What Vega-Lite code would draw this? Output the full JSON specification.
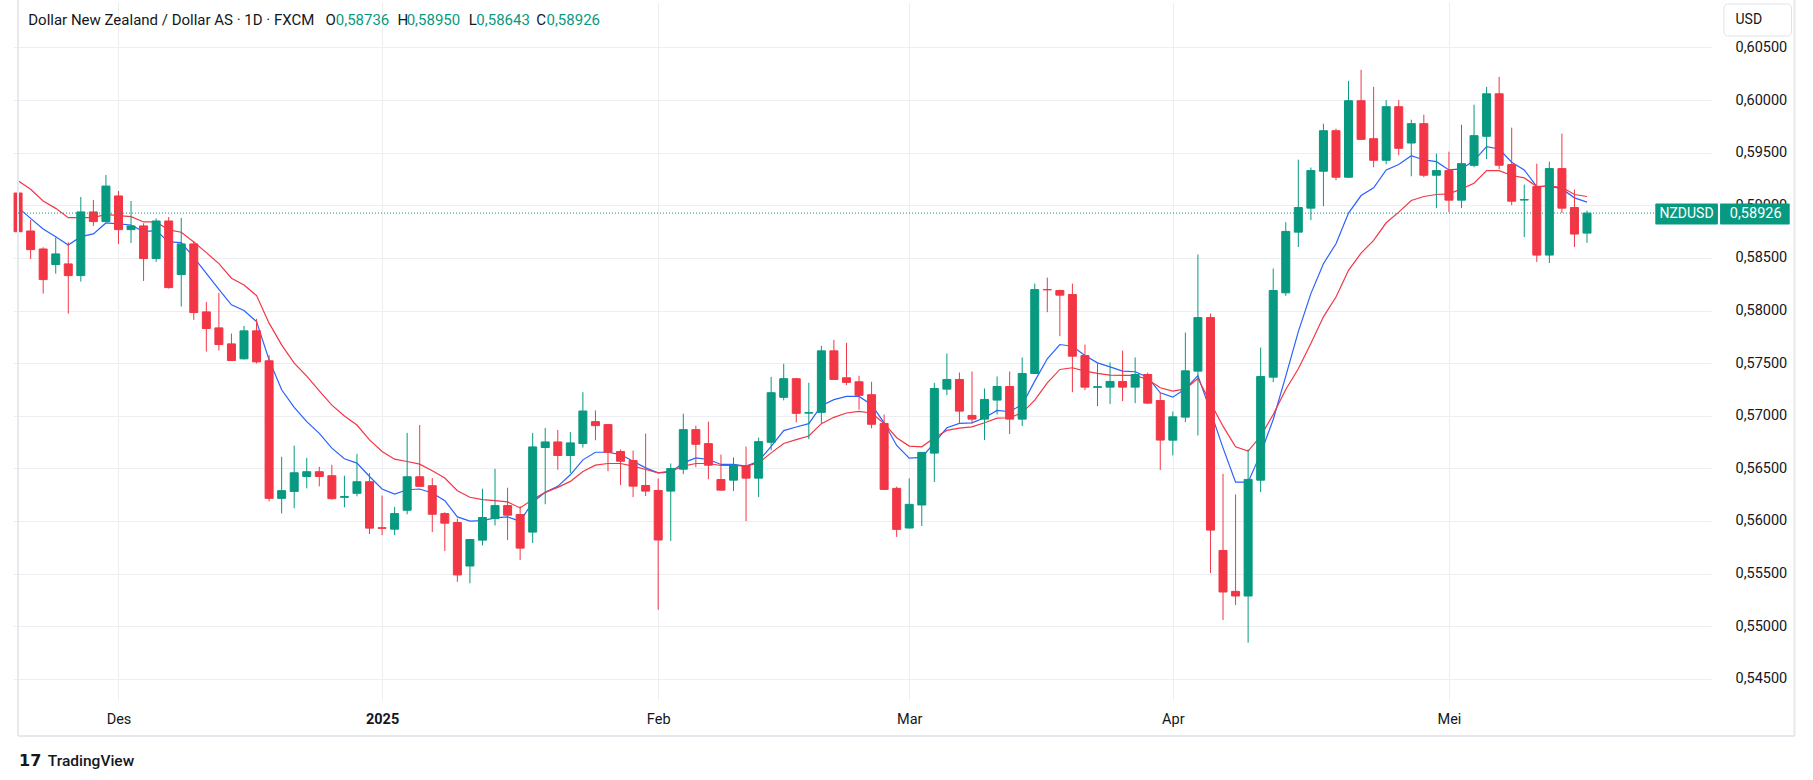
{
  "$schema": "https://vega.github.io/schema/vega-lite/v6.json",
  "width": 1698,
  "height": 698,
  "autosize": {"type": "none"},
  "padding": {"left": 13, "top": 2, "right": 102, "bottom": 80},
  "background": "#ffffff",
  "config": {"view": {"stroke": null}},
  "datasets": {
    "nzdusd": [
      {"i":1,"o":0.59117,"h":0.5916,"l":0.587,"c":0.58749,"b":0.58978,"r":0.59234},
      {"i":2,"o":0.58756,"h":0.58861,"l":0.5849,"c":0.58579,"b":0.58876,"r":0.59152},
      {"i":3,"o":0.58585,"h":0.58601,"l":0.58161,"c":0.58294,"b":0.58775,"r":0.59041},
      {"i":4,"o":0.58437,"h":0.58693,"l":0.58351,"c":0.58538,"b":0.58702,"r":0.58971},
      {"i":5,"o":0.58443,"h":0.58649,"l":0.57971,"c":0.58332,"b":0.58623,"r":0.58883},
      {"i":6,"o":0.58332,"h":0.59079,"l":0.58275,"c":0.58937,"b":0.58702,"r":0.58883},
      {"i":7,"o":0.58937,"h":0.59051,"l":0.58804,"c":0.58845,"b":0.58728,"r":0.58883},
      {"i":8,"o":0.58845,"h":0.59288,"l":0.5884,"c":0.59183,"b":0.58832,"r":0.58914},
      {"i":9,"o":0.59089,"h":0.59136,"l":0.58633,"c":0.58769,"b":0.58823,"r":0.58902},
      {"i":10,"o":0.58769,"h":0.59041,"l":0.58642,"c":0.58804,"b":0.58813,"r":0.58892},
      {"i":11,"o":0.58804,"h":0.58829,"l":0.58281,"c":0.58494,"b":0.5875,"r":0.58842},
      {"i":12,"o":0.58494,"h":0.58876,"l":0.58462,"c":0.58851,"b":0.58759,"r":0.58842},
      {"i":13,"o":0.58851,"h":0.58889,"l":0.58209,"c":0.58218,"b":0.58652,"r":0.58766},
      {"i":14,"o":0.58342,"h":0.5888,"l":0.58038,"c":0.58633,"b":0.58646,"r":0.58744},
      {"i":15,"o":0.58633,"h":0.58661,"l":0.57911,"c":0.57981,"b":0.58506,"r":0.58652},
      {"i":16,"o":0.57987,"h":0.58082,"l":0.5761,"c":0.57829,"b":0.58354,"r":0.5855},
      {"i":17,"o":0.57835,"h":0.58168,"l":0.5762,"c":0.57677,"b":0.58202,"r":0.58446},
      {"i":18,"o":0.57683,"h":0.57781,"l":0.5752,"c":0.57525,"b":0.58054,"r":0.58307},
      {"i":19,"o":0.57541,"h":0.57854,"l":0.57535,"c":0.57807,"b":0.58,"r":0.58243},
      {"i":20,"o":0.57807,"h":0.57921,"l":0.57497,"c":0.57512,"b":0.57895,"r":0.58142},
      {"i":21,"o":0.57522,"h":0.57576,"l":0.56186,"c":0.56215,"b":0.57531,"r":0.5788},
      {"i":22,"o":0.56215,"h":0.5661,"l":0.56072,"c":0.56288,"b":0.57247,"r":0.57674},
      {"i":23,"o":0.56281,"h":0.56715,"l":0.5612,"c":0.56458,"b":0.57079,"r":0.575},
      {"i":24,"o":0.56423,"h":0.566,"l":0.5631,"c":0.56468,"b":0.56944,"r":0.57376},
      {"i":25,"o":0.56468,"h":0.56515,"l":0.56329,"c":0.56423,"b":0.56833,"r":0.57237},
      {"i":26,"o":0.5643,"h":0.56534,"l":0.56203,"c":0.56212,"b":0.56692,"r":0.57101},
      {"i":27,"o":0.56225,"h":0.5643,"l":0.5613,"c":0.56232,"b":0.56591,"r":0.56997},
      {"i":28,"o":0.56263,"h":0.56638,"l":0.56234,"c":0.56373,"b":0.5655,"r":0.56912},
      {"i":29,"o":0.56373,"h":0.56455,"l":0.55875,"c":0.55932,"b":0.56423,"r":0.5677},
      {"i":30,"o":0.55936,"h":0.56241,"l":0.55865,"c":0.5593,"b":0.56304,"r":0.5666},
      {"i":31,"o":0.55922,"h":0.56133,"l":0.55865,"c":0.5607,"b":0.56256,"r":0.56587},
      {"i":32,"o":0.56102,"h":0.56837,"l":0.56064,"c":0.5642,"b":0.56297,"r":0.56565},
      {"i":33,"o":0.5642,"h":0.56912,"l":0.56323,"c":0.56329,"b":0.56304,"r":0.5654},
      {"i":34,"o":0.56335,"h":0.56408,"l":0.55894,"c":0.56064,"b":0.56266,"r":0.56477},
      {"i":35,"o":0.5607,"h":0.56083,"l":0.55714,"c":0.55979,"b":0.56193,"r":0.56408},
      {"i":36,"o":0.55985,"h":0.56023,"l":0.55421,"c":0.55487,"b":0.56039,"r":0.56288},
      {"i":37,"o":0.55572,"h":0.5583,"l":0.55408,"c":0.55824,"b":0.55998,"r":0.56225},
      {"i":38,"o":0.55818,"h":0.56307,"l":0.55768,"c":0.56033,"b":0.56004,"r":0.56203},
      {"i":39,"o":0.56023,"h":0.56496,"l":0.55957,"c":0.56146,"b":0.56029,"r":0.56193},
      {"i":40,"o":0.56146,"h":0.56316,"l":0.55818,"c":0.56055,"b":0.56039,"r":0.56181},
      {"i":41,"o":0.56061,"h":0.5614,"l":0.55629,"c":0.55742,"b":0.55998,"r":0.56124},
      {"i":42,"o":0.55894,"h":0.56837,"l":0.5579,"c":0.56704,"b":0.56178,"r":0.56203},
      {"i":43,"o":0.56698,"h":0.56884,"l":0.56159,"c":0.56751,"b":0.56272,"r":0.56272},
      {"i":44,"o":0.56751,"h":0.56865,"l":0.56487,"c":0.56622,"b":0.56329,"r":0.56319},
      {"i":45,"o":0.56622,"h":0.56846,"l":0.56455,"c":0.56742,"b":0.56439,"r":0.56376},
      {"i":46,"o":0.56736,"h":0.57224,"l":0.56698,"c":0.57045,"b":0.56581,"r":0.56471},
      {"i":47,"o":0.56944,"h":0.57051,"l":0.56767,"c":0.56906,"b":0.56653,"r":0.5653},
      {"i":48,"o":0.56916,"h":0.5692,"l":0.56473,"c":0.56653,"b":0.56653,"r":0.56546},
      {"i":49,"o":0.5666,"h":0.56679,"l":0.56341,"c":0.56568,"b":0.56631,"r":0.56546},
      {"i":50,"o":0.56574,"h":0.56669,"l":0.56227,"c":0.56331,"b":0.56568,"r":0.56521},
      {"i":51,"o":0.56337,"h":0.5683,"l":0.56236,"c":0.56284,"b":0.56505,"r":0.56489},
      {"i":52,"o":0.5629,"h":0.56404,"l":0.55156,"c":0.55819,"b":0.56458,"r":0.56458},
      {"i":53,"o":0.56284,"h":0.56546,"l":0.5581,"c":0.56499,"b":0.56464,"r":0.56473},
      {"i":54,"o":0.56492,"h":0.5702,"l":0.56445,"c":0.56868,"b":0.56552,"r":0.56521},
      {"i":55,"o":0.56868,"h":0.56906,"l":0.56511,"c":0.56729,"b":0.566,"r":0.56546},
      {"i":56,"o":0.56735,"h":0.56944,"l":0.56397,"c":0.5653,"b":0.56584,"r":0.56546},
      {"i":57,"o":0.56394,"h":0.56631,"l":0.5629,"c":0.56293,"b":0.56537,"r":0.56527},
      {"i":58,"o":0.56388,"h":0.56603,"l":0.56284,"c":0.5653,"b":0.56537,"r":0.56527},
      {"i":59,"o":0.56527,"h":0.56707,"l":0.55999,"c":0.56407,"b":0.56521,"r":0.56521},
      {"i":60,"o":0.56407,"h":0.56792,"l":0.56227,"c":0.56754,"b":0.56568,"r":0.56552},
      {"i":61,"o":0.56748,"h":0.5737,"l":0.56672,"c":0.57219,"b":0.5671,"r":0.56647},
      {"i":62,"o":0.57175,"h":0.57494,"l":0.57146,"c":0.57352,"b":0.56859,"r":0.56736},
      {"i":63,"o":0.57352,"h":0.5736,"l":0.56938,"c":0.57023,"b":0.56893,"r":0.56773},
      {"i":64,"o":0.57025,"h":0.57314,"l":0.56777,"c":0.5703,"b":0.56925,"r":0.56808},
      {"i":65,"o":0.57032,"h":0.57664,"l":0.56928,"c":0.57617,"b":0.57096,"r":0.56925},
      {"i":66,"o":0.57617,"h":0.57721,"l":0.5734,"c":0.57345,"b":0.57153,"r":0.56985},
      {"i":67,"o":0.57361,"h":0.57693,"l":0.57292,"c":0.57317,"b":0.57184,"r":0.57026},
      {"i":68,"o":0.57323,"h":0.5738,"l":0.57058,"c":0.57194,"b":0.57184,"r":0.57042},
      {"i":69,"o":0.572,"h":0.57323,"l":0.56881,"c":0.56919,"b":0.57105,"r":0.57026},
      {"i":70,"o":0.56927,"h":0.57012,"l":0.56294,"c":0.563,"b":0.56933,"r":0.56927},
      {"i":71,"o":0.5631,"h":0.56326,"l":0.55848,"c":0.5592,"b":0.56718,"r":0.56791},
      {"i":72,"o":0.55933,"h":0.56405,"l":0.5593,"c":0.56158,"b":0.56598,"r":0.56712},
      {"i":73,"o":0.56152,"h":0.56655,"l":0.55952,"c":0.56652,"b":0.56604,"r":0.56705},
      {"i":74,"o":0.56645,"h":0.57313,"l":0.5637,"c":0.57259,"b":0.56743,"r":0.56791},
      {"i":75,"o":0.57253,"h":0.57592,"l":0.57196,"c":0.57345,"b":0.56886,"r":0.56861},
      {"i":76,"o":0.57345,"h":0.57411,"l":0.56927,"c":0.57044,"b":0.56927,"r":0.56883},
      {"i":77,"o":0.57003,"h":0.57421,"l":0.56927,"c":0.56968,"b":0.56933,"r":0.56895},
      {"i":78,"o":0.56968,"h":0.57259,"l":0.56769,"c":0.57155,"b":0.56981,"r":0.56933},
      {"i":79,"o":0.57149,"h":0.57373,"l":0.57012,"c":0.57278,"b":0.5705,"r":0.56978},
      {"i":80,"o":0.57278,"h":0.57421,"l":0.56826,"c":0.56968,"b":0.57038,"r":0.56981},
      {"i":81,"o":0.56968,"h":0.57554,"l":0.56902,"c":0.57402,"b":0.57107,"r":0.57028},
      {"i":82,"o":0.57402,"h":0.58256,"l":0.574,"c":0.58199,"b":0.57329,"r":0.57149},
      {"i":83,"o":0.582,"h":0.58313,"l":0.57984,"c":0.58196,"b":0.57541,"r":0.57313},
      {"i":84,"o":0.5819,"h":0.582,"l":0.57756,"c":0.58146,"b":0.57677,"r":0.5744},
      {"i":85,"o":0.58152,"h":0.58256,"l":0.57224,"c":0.57566,"b":0.57661,"r":0.57456},
      {"i":86,"o":0.57572,"h":0.57677,"l":0.57244,"c":0.57272,"b":0.57573,"r":0.57424},
      {"i":87,"o":0.5727,"h":0.57497,"l":0.57092,"c":0.57276,"b":0.57503,"r":0.57402},
      {"i":88,"o":0.57272,"h":0.57506,"l":0.57111,"c":0.57326,"b":0.57465,"r":0.57386},
      {"i":89,"o":0.57326,"h":0.5762,"l":0.57139,"c":0.57272,"b":0.57424,"r":0.57383},
      {"i":90,"o":0.57272,"h":0.57554,"l":0.5712,"c":0.57392,"b":0.57418,"r":0.57383},
      {"i":91,"o":0.57392,"h":0.5741,"l":0.57111,"c":0.5712,"b":0.57367,"r":0.57345},
      {"i":92,"o":0.57145,"h":0.57221,"l":0.56484,"c":0.56769,"b":0.57218,"r":0.57266},
      {"i":93,"o":0.56768,"h":0.5704,"l":0.56623,"c":0.5699,"b":0.57177,"r":0.57234},
      {"i":94,"o":0.56987,"h":0.57791,"l":0.56939,"c":0.57427,"b":0.57256,"r":0.57256},
      {"i":95,"o":0.57424,"h":0.58532,"l":0.56813,"c":0.57933,"b":0.57382,"r":0.57354},
      {"i":96,"o":0.57933,"h":0.57971,"l":0.55505,"c":0.55913,"b":0.57044,"r":0.57123},
      {"i":97,"o":0.5572,"h":0.56448,"l":0.55059,"c":0.55325,"b":0.56695,"r":0.56901},
      {"i":98,"o":0.55331,"h":0.56252,"l":0.55201,"c":0.55287,"b":0.56369,"r":0.56705},
      {"i":99,"o":0.55287,"h":0.5668,"l":0.54843,"c":0.56395,"b":0.56369,"r":0.56664},
      {"i":100,"o":0.56388,"h":0.57648,"l":0.56274,"c":0.57373,"b":0.5664,"r":0.56806},
      {"i":101,"o":0.57367,"h":0.58399,"l":0.57319,"c":0.5819,"b":0.56964,"r":0.57012},
      {"i":102,"o":0.58168,"h":0.5884,"l":0.5814,"c":0.58752,"b":0.57376,"r":0.57249},
      {"i":103,"o":0.58745,"h":0.59434,"l":0.58603,"c":0.58979,"b":0.578,"r":0.57447},
      {"i":104,"o":0.58973,"h":0.59359,"l":0.58859,"c":0.5933,"b":0.58161,"r":0.57687},
      {"i":105,"o":0.59324,"h":0.59776,"l":0.58992,"c":0.59709,"b":0.58445,"r":0.5794},
      {"i":106,"o":0.59709,"h":0.59728,"l":0.59238,"c":0.59267,"b":0.58635,"r":0.58129},
      {"i":107,"o":0.59267,"h":0.60183,"l":0.5926,"c":0.59994,"b":0.58926,"r":0.58382},
      {"i":108,"o":0.59994,"h":0.60288,"l":0.5962,"c":0.59627,"b":0.59093,"r":0.58546},
      {"i":109,"o":0.59633,"h":0.60126,"l":0.59362,"c":0.59428,"b":0.59166,"r":0.58666},
      {"i":110,"o":0.59428,"h":0.6,"l":0.5939,"c":0.59937,"b":0.59336,"r":0.58834},
      {"i":111,"o":0.59937,"h":0.6,"l":0.59475,"c":0.59542,"b":0.59387,"r":0.58935},
      {"i":112,"o":0.59592,"h":0.59814,"l":0.59276,"c":0.59776,"b":0.59472,"r":0.59046},
      {"i":113,"o":0.59776,"h":0.59861,"l":0.59267,"c":0.59286,"b":0.59431,"r":0.59084},
      {"i":114,"o":0.59286,"h":0.59491,"l":0.58973,"c":0.5933,"b":0.59415,"r":0.59103},
      {"i":115,"o":0.5933,"h":0.5951,"l":0.58935,"c":0.59049,"b":0.59336,"r":0.59109},
      {"i":116,"o":0.59049,"h":0.59766,"l":0.58973,"c":0.59396,"b":0.59346,"r":0.59156},
      {"i":117,"o":0.5938,"h":0.59956,"l":0.59362,"c":0.59662,"b":0.59425,"r":0.5921},
      {"i":118,"o":0.59656,"h":0.60126,"l":0.59438,"c":0.6006,"b":0.59558,"r":0.5933},
      {"i":119,"o":0.6006,"h":0.60221,"l":0.59343,"c":0.59381,"b":0.59535,"r":0.5933},
      {"i":120,"o":0.59387,"h":0.59738,"l":0.59001,"c":0.59039,"b":0.59409,"r":0.59283},
      {"i":121,"o":0.5905,"h":0.59197,"l":0.58698,"c":0.59055,"b":0.59336,"r":0.59261},
      {"i":122,"o":0.59178,"h":0.59396,"l":0.58461,"c":0.58527,"b":0.59178,"r":0.59178},
      {"i":123,"o":0.58527,"h":0.59415,"l":0.58452,"c":0.59349,"b":0.59182,"r":0.59182},
      {"i":124,"o":0.59349,"h":0.59681,"l":0.58926,"c":0.58973,"b":0.59156,"r":0.59172},
      {"i":125,"o":0.58979,"h":0.5915,"l":0.58603,"c":0.58727,"b":0.59071,"r":0.59103},
      {"i":126,"o":0.58736,"h":0.5895,"l":0.58643,"c":0.58926,"b":0.5903,"r":0.59084}
    ]
  },
  "data": {"name": "nzdusd"},
  "encoding": {
    "x": {
      "field": "i",
      "type": "quantitative",
      "title": null,
      "scale": {"domain": [0.9945, 135.48], "nice": false, "zero": false},
      "axis": {
        "values": [9, 30, 52, 72, 93, 115],
        "labelExpr": "datum.value == 9 ? 'Des' : datum.value == 30 ? '2025' : datum.value == 52 ? 'Feb' : datum.value == 72 ? 'Mar' : datum.value == 93 ? 'Apr' : 'Mei'",
        "labelFontWeight": {"condition": {"test": "datum.value == 30", "value": "bold"}, "value": "normal"},
        "grid": true,
        "domain": false,
        "ticks": false,
        "tickSize": 0,
        "labelPadding": 19,
        "labelBaseline": "middle",
        "labelFlush": false,
        "labelFont": "Roboto",
        "labelFontSize": 14.5,
        "labelColor": "#131722",
        "gridColor": "#eceef2"
      }
    }
  },
  "layer": [
    {
      "mark": {"type": "line", "color": "#2962FF", "strokeWidth": 1.2, "clip": true},
      "encoding": {
        "y": {
          "field": "b",
          "type": "quantitative",
          "title": null,
          "scale": {"domain": [0.542985, 0.609323], "nice": false, "zero": false},
          "axis": {
            "orient": "right",
            "values": [0.545, 0.55, 0.555, 0.56, 0.565, 0.57, 0.575, 0.58, 0.585, 0.59, 0.595, 0.6, 0.605],
            "labelExpr": "replace(format(datum.value, '.5f'), '.', ',')",
            "grid": true,
            "domain": false,
            "ticks": false,
            "tickSize": 0,
            "labelPadding": 24,
            "labelAlign": "left",
            "labelBaseline": "middle",
            "labelFlush": false,
            "labelOverlap": false,
            "labelFont": "Roboto",
            "labelFontSize": 14.5,
            "labelColor": "#131722",
            "gridColor": "#eceef2"
          }
        }
      }
    },
    {
      "mark": {"type": "line", "color": "#F23645", "strokeWidth": 1.2, "clip": true},
      "encoding": {
        "y": {"field": "r", "type": "quantitative", "title": null, "scale": {"domain": [0.542985, 0.609323], "nice": false, "zero": false}}
      }
    },
    {
      "mark": {"type": "rule", "strokeWidth": 1, "clip": true},
      "encoding": {
        "y": {"field": "l", "type": "quantitative", "title": null, "scale": {"domain": [0.542985, 0.609323], "nice": false, "zero": false}},
        "y2": {"field": "h"},
        "color": {"condition": {"test": "datum.c >= datum.o", "value": "#089981"}, "value": "#F23645"}
      }
    },
    {
      "mark": {"type": "bar", "width": 8, "strokeWidth": 1, "clip": true},
      "encoding": {
        "y": {"field": "o", "type": "quantitative", "title": null, "scale": {"domain": [0.542985, 0.609323], "nice": false, "zero": false}},
        "y2": {"field": "c"},
        "color": {"condition": {"test": "datum.c >= datum.o", "value": "#089981"}, "value": "#F23645"},
        "stroke": {"condition": {"test": "datum.c >= datum.o", "value": "#089981"}, "value": "#F23645"}
      }
    },
    {
      "transform": [{"filter": "datum.i == 1"}],
      "mark": {"type": "rule", "color": "#e6e8ee", "strokeWidth": 2},
      "encoding": {
        "x": {"datum": 0.9945},
        "y": {"datum": 0.6095},
        "y2": {"datum": 0.53956}
      }
    },
    {
      "transform": [{"filter": "datum.i == 1"}],
      "mark": {"type": "rule", "color": "#e6e8ee", "strokeWidth": 2},
      "encoding": {
        "x": {"datum": 142.53},
        "y": {"datum": 0.6095},
        "y2": {"datum": 0.53956}
      }
    },
    {
      "transform": [{"filter": "datum.i == 1"}],
      "mark": {"type": "rule", "color": "#e6e8ee", "strokeWidth": 2},
      "encoding": {
        "x": {"datum": 0.9945},
        "x2": {"datum": 142.53},
        "y": {"datum": 0.53956}
      }
    },
    {
      "transform": [{"filter": "datum.i == 126"}],
      "mark": {"type": "rule", "color": "#089981", "strokeWidth": 1, "strokeDash": [1, 2]},
      "encoding": {
        "x": {"datum": 0.9945},
        "x2": {"datum": 131.44},
        "y": {"field": "c", "type": "quantitative"}
      }
    },
    {
      "transform": [{"filter": "datum.i == 126"}],
      "mark": {"type": "rect", "color": "#089981", "cornerRadius": 1},
      "encoding": {
        "x": {"datum": 131.44},
        "x2": {"datum": 136.43},
        "y": {"datum": 0.590172},
        "y2": {"datum": 0.588176}
      }
    },
    {
      "transform": [{"filter": "datum.i == 126"}],
      "mark": {"type": "rect", "color": "#089981", "cornerRadius": 1},
      "encoding": {
        "x": {"datum": 136.6},
        "x2": {"datum": 142.15},
        "y": {"datum": 0.590172},
        "y2": {"datum": 0.588176}
      }
    },
    {
      "transform": [{"filter": "datum.i == 126"}],
      "mark": {"type": "text", "text": "NZDUSD", "color": "#ffffff", "font": "Roboto", "fontSize": 14, "align": "center", "baseline": "middle"},
      "encoding": {"x": {"datum": 133.93}, "y": {"datum": 0.58922}}
    },
    {
      "transform": [{"filter": "datum.i == 126"}],
      "mark": {"type": "text", "text": "0,58926", "color": "#ffffff", "font": "Roboto", "fontSize": 14.5, "align": "left", "baseline": "middle"},
      "encoding": {"x": {"datum": 137.38}, "y": {"datum": 0.58922}}
    },
    {
      "transform": [{"filter": "datum.i == 1"}],
      "mark": {"type": "rect", "fill": "#ffffff", "stroke": "#e0e3eb", "strokeWidth": 1, "cornerRadius": 4},
      "encoding": {
        "x": {"datum": 136.905},
        "x2": {"datum": 142.29},
        "y": {"datum": 0.609132},
        "y2": {"datum": 0.606091}
      }
    },
    {
      "transform": [{"filter": "datum.i == 1"}],
      "mark": {"type": "text", "text": "USD", "color": "#131722", "font": "Roboto", "fontSize": 14, "align": "left", "baseline": "middle"},
      "encoding": {"x": {"datum": 137.83}, "y": {"datum": 0.607612}}
    },
    {
      "transform": [{"filter": "datum.i == 1"}],
      "mark": {"type": "text", "text": "Dollar New Zealand / Dollar AS · 1D · FXCM", "color": "#131722", "font": "Roboto", "fontSize": 15, "align": "left", "baseline": "alphabetic"},
      "encoding": {"x": {"datum": 1.81}, "y": {"datum": 0.607137}}
    },
    {
      "transform": [{"filter": "datum.i == 1"}],
      "mark": {"type": "text", "text": "O", "color": "#131722", "font": "Roboto", "fontSize": 15, "align": "left", "baseline": "alphabetic"},
      "encoding": {"x": {"datum": 25.49}, "y": {"datum": 0.607137}}
    },
    {
      "transform": [{"filter": "datum.i == 1"}],
      "mark": {"type": "text", "text": "0,58736", "color": "#089981", "font": "Roboto", "fontSize": 15, "align": "left", "baseline": "alphabetic"},
      "encoding": {"x": {"datum": 26.31}, "y": {"datum": 0.607137}}
    },
    {
      "transform": [{"filter": "datum.i == 1"}],
      "mark": {"type": "text", "text": "H", "color": "#131722", "font": "Roboto", "fontSize": 15, "align": "left", "baseline": "alphabetic"},
      "encoding": {"x": {"datum": 31.22}, "y": {"datum": 0.607137}}
    },
    {
      "transform": [{"filter": "datum.i == 1"}],
      "mark": {"type": "text", "text": "0,58950", "color": "#089981", "font": "Roboto", "fontSize": 15, "align": "left", "baseline": "alphabetic"},
      "encoding": {"x": {"datum": 31.96}, "y": {"datum": 0.607137}}
    },
    {
      "transform": [{"filter": "datum.i == 1"}],
      "mark": {"type": "text", "text": "L", "color": "#131722", "font": "Roboto", "fontSize": 15, "align": "left", "baseline": "alphabetic"},
      "encoding": {"x": {"datum": 36.91}, "y": {"datum": 0.607137}}
    },
    {
      "transform": [{"filter": "datum.i == 1"}],
      "mark": {"type": "text", "text": "0,58643", "color": "#089981", "font": "Roboto", "fontSize": 15, "align": "left", "baseline": "alphabetic"},
      "encoding": {"x": {"datum": 37.51}, "y": {"datum": 0.607137}}
    },
    {
      "transform": [{"filter": "datum.i == 1"}],
      "mark": {"type": "text", "text": "C", "color": "#131722", "font": "Roboto", "fontSize": 15, "align": "left", "baseline": "alphabetic"},
      "encoding": {"x": {"datum": 42.29}, "y": {"datum": 0.607137}}
    },
    {
      "transform": [{"filter": "datum.i == 1"}],
      "mark": {"type": "text", "text": "0,58926", "color": "#089981", "font": "Roboto", "fontSize": 15, "align": "left", "baseline": "alphabetic"},
      "encoding": {"x": {"datum": 43.1}, "y": {"datum": 0.607137}}
    },
    {
      "transform": [{"filter": "datum.i == 1"}],
      "mark": {"type": "text", "text": "17", "color": "#131722", "font": "DejaVu Sans", "fontSize": 16, "fontWeight": 900, "align": "left", "baseline": "middle"},
      "encoding": {"x": {"datum": 1.074}, "y": {"datum": 0.537187}}
    },
    {
      "transform": [{"filter": "datum.i == 1"}],
      "mark": {"type": "text", "text": "TradingView", "color": "#131722", "font": "Roboto", "fontSize": 15.5, "fontWeight": 500, "align": "left", "baseline": "middle"},
      "encoding": {"x": {"datum": 3.37}, "y": {"datum": 0.537187}}
    }
  ]
}
